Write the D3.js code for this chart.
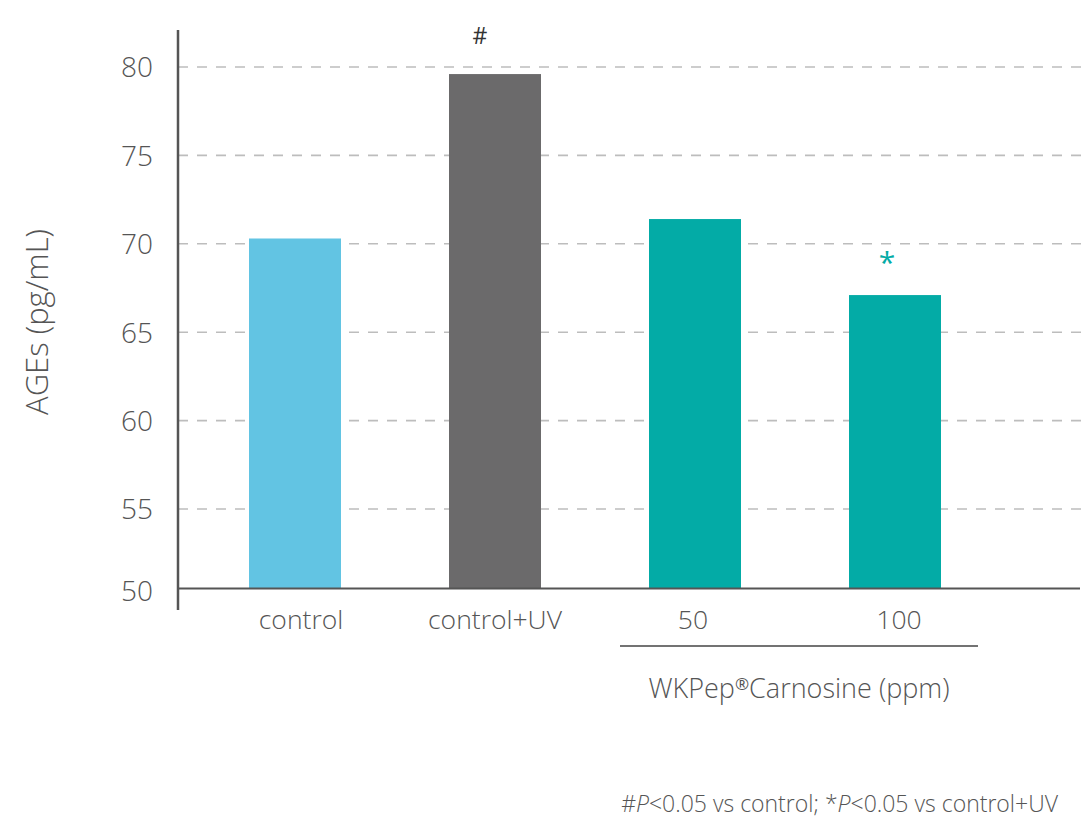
<!DOCTYPE html>
<html>
<head>
<meta charset="utf-8">
<script src="https://cdn.jsdelivr.net/npm/d3@7/dist/d3.min.js"></script>
<style>
  html, body { margin: 0; padding: 0; background: #ffffff; }
  svg { display: block; font-family: "Open Sans", "Noto Sans", sans-serif; font-weight: 330; }
</style>
</head>
<body>
<svg id="chart" width="1083" height="819"></svg>
<script>
// ---- data ----
const categories = ["control", "control+UV", "50", "100"];
const values = [70.3, 79.6, 71.4, 67.1];
const barColors = ["#62C4E3", "#6B6A6B", "#03ABA6", "#03ABA6"];
const marks = ["", "#", "", "*"];
const yTicks = [50, 55, 60, 65, 70, 75, 80];
const yTitle = "AGEs (pg/mL)";
const groupLabel = "WKPep®Carnosine (ppm)";
const groupMembers = ["50", "100"];

// ---- layout ----
const svg = d3.select("#chart");
const axisX = 178;
const yTop = 30, yBottom = 610;

const y = d3.scaleLinear().domain([50, 80]).range([597.4, 67]);
const baseY = y(50.5);

const x = d3.scaleBand()
  .domain(categories)
  .range([195, 995])
  .paddingInner(0.54)
  .paddingOuter(0.27);

const labelShift = { "control": 6, "control+UV": 0, "50": -2, "100": 4 };

// gridlines
svg.append("g")
  .selectAll("line")
  .data(yTicks.filter(t => t > 50))
  .join("line")
  .attr("x1", axisX)
  .attr("x2", 1083)
  .attr("y1", d => y(d))
  .attr("y2", d => y(d))
  .attr("stroke", "#bdbdbd")
  .attr("stroke-width", 1.6)
  .attr("stroke-dasharray", "10,9");

// bars
svg.append("g")
  .selectAll("rect")
  .data(categories)
  .join("rect")
  .attr("x", d => x(d))
  .attr("width", x.bandwidth())
  .attr("y", (d, i) => y(values[i]))
  .attr("height", (d, i) => baseY - y(values[i]))
  .attr("fill", (d, i) => barColors[i]);

// y axis line
svg.append("line")
  .attr("x1", axisX).attr("x2", axisX)
  .attr("y1", yTop).attr("y2", yBottom)
  .attr("stroke", "#555").attr("stroke-width", 2.5);

// baseline
svg.append("line")
  .attr("x1", axisX).attr("x2", 1080)
  .attr("y1", baseY).attr("y2", baseY)
  .attr("stroke", "#555").attr("stroke-width", 2);

// y tick labels
svg.append("g")
  .selectAll("text")
  .data(yTicks)
  .join("text")
  .attr("x", 153)
  .attr("y", d => d === 50 ? baseY + 5 : y(d) + 3)
  .attr("text-anchor", "end")
  .attr("dominant-baseline", "middle")
  .attr("font-size", 28)
  .attr("fill", "#555")
  .text(d => d);

// y title
svg.append("text")
  .attr("transform", "translate(40,322) rotate(-90)")
  .attr("text-anchor", "middle")
  .attr("dominant-baseline", "middle")
  .attr("font-size", 31)
  .attr("fill", "#555")
  .text(yTitle);

// category labels
svg.append("g")
  .selectAll("text")
  .data(categories)
  .join("text")
  .attr("x", d => x(d) + x.bandwidth() / 2 + labelShift[d])
  .attr("y", 629)
  .attr("text-anchor", "middle")
  .attr("font-size", 26.5)
  .attr("fill", "#555")
  .text(d => d);

// significance marks
svg.append("g")
  .selectAll("text")
  .data(categories)
  .join("text")
  .attr("x", (d, i) => x(d) + x.bandwidth() / 2 + (marks[i] === "#" ? -15 : -8))
  .attr("y", (d, i) => marks[i] === "#" ? y(values[i]) - 30 : y(values[i]) - 22)
  .attr("text-anchor", "middle")
  .attr("font-size", (d, i) => marks[i] === "#" ? 23 : 30)
  .attr("font-weight", 400)
  .attr("fill", (d, i) => marks[i] === "#" ? "#333" : barColors[i])
  .text((d, i) => marks[i]);

// group bracket
const gx1 = x(groupMembers[0]) - 29;
const gx2 = x(groupMembers[groupMembers.length - 1]) + x.bandwidth() + 37;
svg.append("line")
  .attr("x1", gx1).attr("x2", gx2)
  .attr("y1", 646).attr("y2", 646)
  .attr("stroke", "#444").attr("stroke-width", 1.5);

const gl = svg.append("text")
  .attr("x", (gx1 + gx2) / 2)
  .attr("y", 698)
  .attr("text-anchor", "middle")
  .attr("font-size", 27)
  .attr("fill", "#555");
const parts = groupLabel.split("®");
gl.append("tspan").text(parts[0]);
gl.append("tspan").attr("font-size", 17).attr("dy", -8).attr("font-weight", 400).text("®");
gl.append("tspan").attr("dy", 8).text(parts[1]);

// footnote
const fn = svg.append("text")
  .attr("x", 1058)
  .attr("y", 812)
  .attr("text-anchor", "end")
  .attr("font-size", 23)
  .attr("fill", "#555");
fn.append("tspan").text("#");
fn.append("tspan").attr("font-style", "italic").text("P");
fn.append("tspan").text("<0.05 vs control; *");
fn.append("tspan").attr("font-style", "italic").text("P");
fn.append("tspan").text("<0.05 vs control+UV");
</script>
</body>
</html>
